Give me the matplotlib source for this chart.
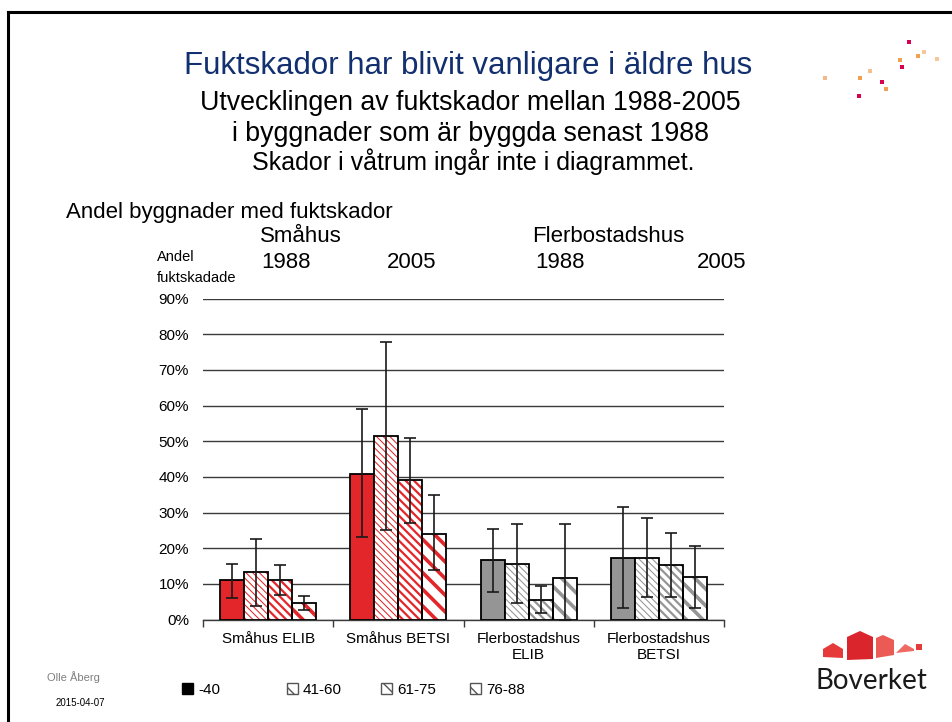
import numpy as np
import matplotlib
matplotlib.use("Agg")
import matplotlib.pyplot as plt
from matplotlib.patches import Rectangle, Polygon
from matplotlib.lines import Line2D

plt.rcParams['font.family'] = ['Liberation Sans', 'DejaVu Sans']

# ---------------- data ----------------
categories = ["Småhus ELIB", "Småhus BETSI", "Flerbostadshus\nELIB", "Flerbostadshus\nBETSI"]
age_groups = ["-40", "41-60", "61-75", "76-88"]
# share of buildings with moisture damage (%) per category, one list per age group
values = {
    "-40":   [11.1, 40.9, 16.6, 17.3],
    "41-60": [13.4, 51.4, 15.7, 17.3],
    "61-75": [11.1, 39.2, 5.4, 15.4],
    "76-88": [4.6, 24.1, 11.7, 12.0],
}
err_low = {
    "-40":   [6.1, 23.1, 7.8, 3.2],
    "41-60": [3.8, 25.0, 4.7, 6.4],
    "61-75": [6.9, 27.1, 1.7, 6.4],
    "76-88": [2.7, 13.8, 0.0, 3.2],
}
err_high = {
    "-40":   [15.7, 59.1, 25.3, 31.5],
    "41-60": [22.5, 77.7, 26.9, 28.4],
    "61-75": [15.3, 51.0, 9.3, 24.2],
    "76-88": [6.5, 34.9, 26.9, 20.7],
}
y_ticks = [0, 10, 20, 30, 40, 50, 60, 70, 80, 90]
cat_colors = ["#E3262A", "#E3262A", "#959595", "#959595"]

# ---------------- styling ----------------
W, H = 952, 722
hatch_style = {
    "-40":   (None, 0),
    "41-60": ("\\" * 5, 0.75),
    "61-75": ("\\" * 4, 1.6),
    "76-88": ("\\" * 2, 2.6),
}

fig = plt.figure(figsize=(W / 100, H / 100), dpi=100)
fig.patch.set_facecolor("white")


def px(x, y):
    return x / W, 1 - y / H


ax = fig.add_axes([203 / W, (H - 619.5) / H, (724 - 203) / W, (619.5 - 298.5) / H])

x = np.arange(len(categories))
bw = 0.1846
for i, ag in enumerate(age_groups):
    pos = x + (i - 1.5) * bw
    vals = values[ag]
    hatch, hlw = hatch_style[ag]
    if hatch is None:
        ax.bar(pos, vals, bw, color=cat_colors, edgecolor="black", linewidth=1.3, zorder=3)
    else:
        with plt.rc_context({"hatch.linewidth": hlw}):
            bars = ax.bar(pos, vals, bw, color="white", edgecolor=cat_colors,
                          linewidth=0, hatch=hatch, zorder=3)
        for b in bars:
            if hasattr(b, "set_hatch_linewidth"):
                b.set_hatch_linewidth(hlw)
        ax.bar(pos, vals, bw, color="none", edgecolor="black", linewidth=1.3, zorder=4)
    lo = np.array(vals) - np.array(err_low[ag])
    hi = np.array(err_high[ag]) - np.array(vals)
    ax.errorbar(pos, vals, yerr=[lo, hi], fmt="none", ecolor="#1a1a1a",
                elinewidth=1.2, capsize=4.5, capthick=1.2, zorder=5)

ax.set_ylim(0, 90)
ax.set_xlim(-0.5, len(categories) - 0.5)
ax.set_yticks(y_ticks)
ax.set_yticklabels([f"{v}%" for v in y_ticks], fontsize=11)
ax.tick_params(axis="y", length=0, pad=10)
ax.yaxis.grid(True, color="#3a3a3a", linewidth=1.0, zorder=0)
ax.set_axisbelow(True)
ax.set_xticks(x)
ax.set_xticklabels(categories, fontsize=11, linespacing=1.15)
ax.set_xticks(np.arange(len(categories) + 1) - 0.5, minor=True)
ax.tick_params(axis="x", which="major", length=0, pad=9)
ax.tick_params(axis="x", which="minor", length=5, width=1.0, color="#3a3a3a", direction="out")
for s in ["left", "right", "top"]:
    ax.spines[s].set_visible(False)
ax.spines["bottom"].set_color("#3a3a3a")
ax.spines["bottom"].set_linewidth(1.0)

# ---------------- texts ----------------
fig.text(*px(468, 66), "Fuktskador har blivit vanligare i äldre hus", fontsize=22.5,
         color="#12306F", ha="center", va="center")
fig.text(*px(470, 103), "Utvecklingen av fuktskador mellan 1988-2005", fontsize=19.3,
         ha="center", va="center")
fig.text(*px(470, 134), "i byggnader som är byggda senast 1988", fontsize=19.3,
         ha="center", va="center")
fig.text(*px(473, 162), "Skador i våtrum ingår inte i diagrammet.", fontsize=18,
         ha="center", va="center")
fig.text(*px(66, 212), "Andel byggnader med fuktskador", fontsize=16, ha="left", va="center")
fig.text(*px(260, 237), "Småhus", fontsize=16, ha="left", va="center")
fig.text(*px(532, 237), "Flerbostadshus", fontsize=16, ha="left", va="center")
for xx, t in [(261, "1988"), (387, "2005"), (535, "1988"), (697, "2005")]:
    fig.text(*px(xx, 263), t, fontsize=16, ha="left", va="center")
fig.text(*px(157, 257), "Andel", fontsize=10.5, ha="left", va="center")
fig.text(*px(157, 278), "fuktskadade", fontsize=10.5, ha="left", va="center")
fig.text(*px(73, 677), "Olle Åberg", fontsize=8, color="#7f7f7f", ha="center", va="center")
fig.text(*px(80, 703), "2015-04-07", fontsize=7, color="black", ha="center", va="center")

# ---------------- legend ----------------
leg_x = [184, 289, 383, 472]
for i, ag in enumerate(age_groups):
    hatch, hlw = hatch_style[ag]
    if hatch is None:
        h = Rectangle((0, 0), 1, 1, facecolor="black", edgecolor="black")
    else:
        h = Rectangle((0, 0), 1, 1, facecolor="white", edgecolor="#555555",
                      hatch=hatch[:2], linewidth=1.0)
    lg = fig.legend(handles=[h], labels=[ag], loc="center left",
                    bbox_to_anchor=px(leg_x[i] - 2, 690), frameon=False, fontsize=11,
                    handlelength=0.75, handleheight=0.75, handletextpad=0.3,
                    borderpad=0, borderaxespad=0)

# ---------------- frame & decorations ----------------
fig.add_artist(Line2D([8 / W, 8 / W], [0, 1 - 12 / H], color="black", lw=2.2,
                      transform=fig.transFigure))
fig.add_artist(Line2D([8 / W, 1], [1 - 12 / H, 1 - 12 / H], color="black", lw=2.2,
                      transform=fig.transFigure))

dots = [(825, 78, "#F4B98A"), (860, 78, "#F0A050"), (859, 96, "#D8004F"),
        (870, 71, "#F4C090"), (882, 82, "#D8004F"), (886, 89, "#F0A050"),
        (900, 60, "#F0A050"), (902, 67, "#D8004F"), (909, 42, "#D8004F"),
        (918, 56, "#F0A050"), (924, 52, "#F6C79A"), (937, 59, "#F6C79A")]
for dx, dy, c in dots:
    fig.add_artist(Rectangle(px(dx - 2, dy + 2), 4 / W, 4 / H, facecolor=c,
                             edgecolor="none", transform=fig.transFigure))

houses = [
    ([(823, 657), (823, 649), (833, 643), (843, 649), (843, 658)], "#E63A3A"),
    ([(847, 660), (847, 637), (860, 631), (873, 637), (873, 659)], "#D9252B"),
    ([(876, 658), (876, 638), (883, 635), (894, 640), (894, 655)], "#EC5A55"),
    ([(896, 653), (905, 644), (914, 649), (914, 651)], "#EF6A62"),
    ([(916, 650), (916, 644), (922, 644), (922, 650)], "#E63A3A"),
]
for pts, c in houses:
    fig.add_artist(Polygon([px(a, b) for a, b in pts], closed=True, facecolor=c,
                           edgecolor="none", transform=fig.transFigure))
fig.text(*px(871, 681), "Boverket", fontsize=20, fontfamily=["Lato", "DejaVu Sans"],
         color="#1a1a1a", ha="center", va="center")

fig.savefig("out.png", dpi=100, facecolor="white")
